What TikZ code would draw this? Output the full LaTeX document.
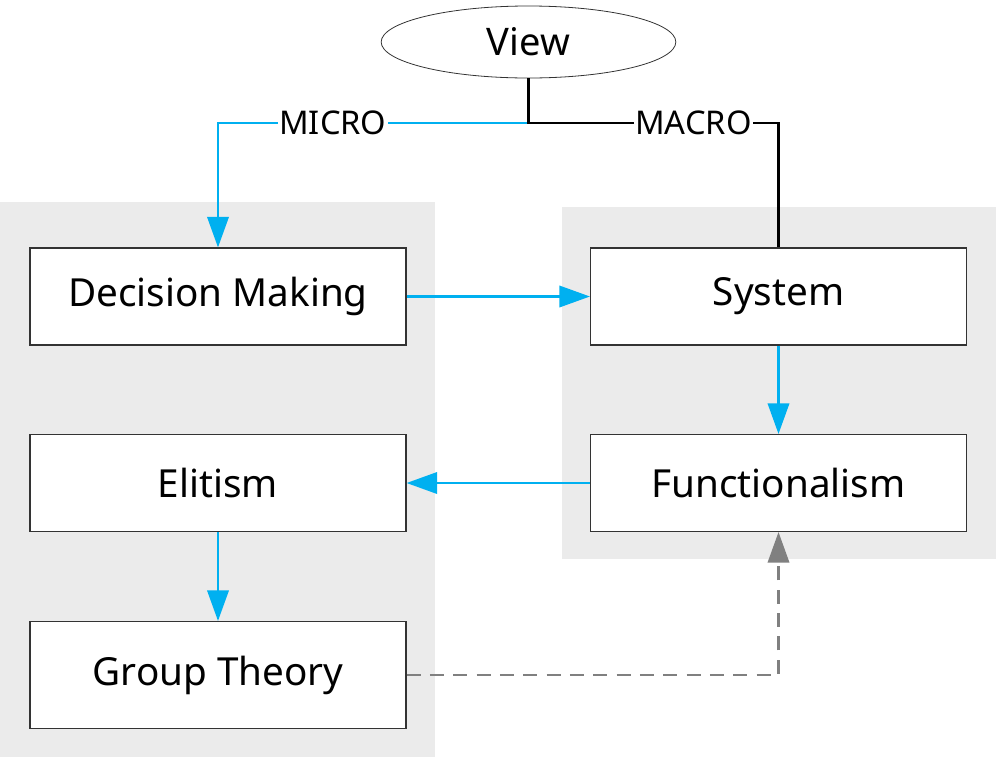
\documentclass[tikz,border=0pt]{standalone}
\usepackage{fontspec}
\setmainfont{Noto Sans}
\usepackage{tikz}
\usetikzlibrary{arrows.meta,shapes.geometric}
\definecolor{skyblue}{RGB}{0,176,240}
\definecolor{panelgray}{RGB}{235,235,235}
\definecolor{dashgray}{RGB}{128,128,128}
\tikzset{
  block/.style={draw=black!80,fill=white,line width=0.8pt,minimum width=282pt,minimum height=72.75pt,inner sep=0pt,font=\fontsize{29}{34}\selectfont},
  viewnode/.style={ellipse,draw=black!80,fill=white,line width=0.6pt,minimum width=221pt,minimum height=54pt,inner sep=0pt,font=\fontsize{28.5}{34}\selectfont},
  flow/.style={skyblue,line width=2pt,-{Triangle[length=23pt,width=16pt]}},
  panel/.style={fill=panelgray},
  tag/.style={fill=white,text=black,inner sep=1pt,font=\fontsize{24.5}{29}\selectfont}
}
\begin{document}
\begin{tikzpicture}[x=0.75pt,y=-0.75pt]
      \useasboundingbox (0,0) rectangle (1006,768);
      \fill[panel] (0,202) rectangle (435,757);
      \fill[panel] (562,207) rectangle (996,559);
      \node[viewnode] (view) at (528.5,42) {View};
      \node[block] (dm) at (218,296.5) {Decision Making};
      \node[block] (sys) at (778.5,296.5) {System};
      \node[block] (elit) at (218,483) {Elitism};
      \node[block] (func) at (778.5,483) {Functionalism};
      \node[block,minimum height=80.25pt] (grp) at (218,675) {Group Theory};
      \coordinate (split) at (528.5,123);
      \draw[flow] (split) -| node[tag,pos=0.315] {MICRO} (dm.north);
      \draw[black,line width=2pt] (view.south) -- (split) -| node[tag,pos=0.33] {MACRO} (sys.north);
      \draw[flow] (dm) -- (sys);
      \draw[flow] (sys) -- (func);
      \draw[flow] (func) -- (elit);
      \draw[flow] (elit) -- (grp);
      \draw[dashgray,line width=2pt,dash pattern=on 10.5pt off 7pt,-{Triangle[length=23pt,width=16pt]}] (grp.east) -| (func.south);
    \end{tikzpicture}
\end{document}
